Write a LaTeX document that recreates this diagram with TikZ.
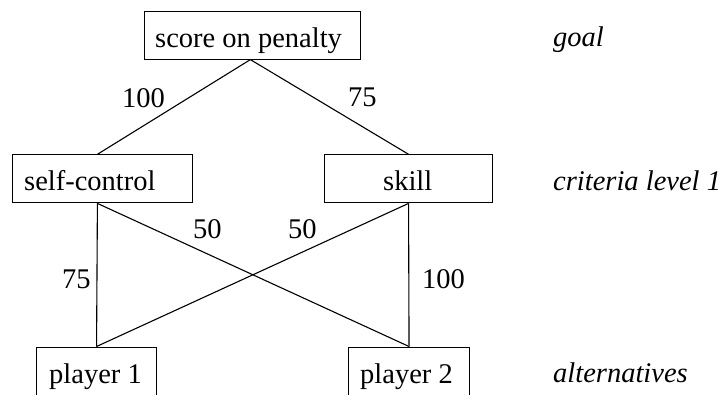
\documentclass[tikz,border=0pt]{standalone}
\usepackage{fontspec}
\setmainfont{Liberation Serif}
\usetikzlibrary{calc}
\begin{document}
\begin{tikzpicture}[x=1pt,y=-1pt,
  box/.style={draw, line width=1.1pt, rectangle, inner sep=0pt, anchor=north west},
  lbl/.style={anchor=base west, inner sep=0pt, font=\fontsize{28.5}{34}\selectfont},
  lvl/.style={anchor=base west, inner sep=0pt, font=\fontsize{28.5}{34}\selectfont\itshape},
  link/.style={line width=1.1pt}]
\clip (0,0) rectangle (720,394);

% boxes of the hierarchy
\node[box, minimum width=216pt, minimum height=48pt] (goalbox) at (144,10.5) {};
\node[box, minimum width=180pt, minimum height=48pt] (sc) at (12.3,154.3) {};
\node[box, minimum width=168pt, minimum height=48pt] (skill) at (324,154.3) {};
\node[box, minimum width=120pt, minimum height=60pt] (p1) at (36,346.5) {};
\node[box, minimum width=121pt, minimum height=60pt] (p2) at (348,346.5) {};

% box texts
\node[lbl] (tgoal) at (155,47) {score on penalty};
\node[lbl] (tsc) at (24,190) {self-control};
\node[lbl] (tskill) at (383,190) {skill};
\node[lbl] (tp1) at (49,383) {player 1};
\node[lbl] (tp2) at (360,383) {player 2};

% level names
\node[lvl] (lgoal) at (553,46) {goal};
\node[lvl] (lcrit) at (553,190) {criteria level 1};
\node[lvl] (lalt) at (553,382) {alternatives};

% connectors
\coordinate (gs) at ($(goalbox.south west)!0.49!(goalbox.south east)$);
\coordinate (scn) at ($(sc.north west)!0.47!(sc.north east)$);
\coordinate (scs) at ($(sc.south west)!0.47!(sc.south east)$);
\draw[link] (gs) -- (scn);
\draw[link] (gs) -- (skill.north);
\draw[link] (scs) -- (p1.north);
\draw[link] (scs) -- (p2.north);
\draw[link] (skill.south) -- (p1.north);
\draw[link] (skill.south) -- (p2.north);

% weights
\node[lbl] (w1) at (122,107) {100};
\node[lbl] (w2) at (348,106) {75};
\node[lbl] (w3) at (193,238) {50};
\node[lbl] (w4) at (288,238) {50};
\node[lbl] (w5) at (62,288) {75};
\node[lbl] (w6) at (422,288) {100};
\end{tikzpicture}
\end{document}
